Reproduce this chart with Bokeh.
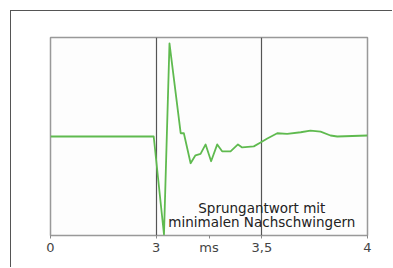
import numpy as np
from bokeh.plotting import figure
from bokeh.models import Range1d, FixedTicker, Label
from bokeh.embed import file_html
from bokeh.resources import INLINE

# Step response: time in ms, normalized amplitude (0 = steady state baseline)
time_ms = [0.0, 2.93, 3.037, 3.063, 3.116, 3.131, 3.163, 3.186, 3.21, 3.234,
           3.26, 3.289, 3.312, 3.352, 3.387, 3.407, 3.462, 3.494, 3.526,
           3.573, 3.62, 3.684, 3.73, 3.778, 3.825, 3.857, 4.0]
amplitude = [0.0, 0.0, -0.99, 0.94, 0.033, 0.033, -0.27, -0.19, -0.175, -0.08,
             -0.25, -0.08, -0.15, -0.15, -0.08, -0.11, -0.10, -0.06, -0.02,
             0.033, 0.027, 0.043, 0.06, 0.05, 0.01, 0.0, 0.01]

# broken time axis: 0..3 ms, 3..3.5 ms, 3.5..4 ms each take one equal segment
axis_breaks_ms = [0.0, 3.0, 3.5, 4.0]
tick_labels = ["0", "3", "3,5", "4"]
axis_unit = "ms"
annotation_lines = ["Sprungantwort mit", "minimalen Nachschwingern"]

seg = list(range(len(axis_breaks_ms)))
xpos = np.interp(time_ms, axis_breaks_ms, seg)

p = figure(width=382, height=257, output_backend="svg", toolbar_location=None,
           x_range=Range1d(0, 3), y_range=Range1d(-1.0, 1.0),
           min_border_left=39, min_border_right=26, min_border_top=26,
           min_border_bottom=33)
p.styles = {"border-left": "1.5px solid #555555", "border-top": "1.5px solid #555555",
            "margin-left": "9.5px", "margin-top": "9.5px"}
p.background_fill_color = "#fdfdfd"
p.border_fill_color = "white"
p.outline_line_color = "#999999"
p.outline_line_width = 1.5

p.yaxis.visible = False
p.ygrid.visible = False
p.xgrid.ticker = FixedTicker(ticks=[1, 2])
p.xgrid.grid_line_color = "#555555"
p.xgrid.grid_line_width = 1.2

p.xaxis.ticker = FixedTicker(ticks=seg + [1.5])
overrides = {i: lab for i, lab in zip(seg, tick_labels)}
overrides[1.5] = axis_unit
p.xaxis.major_label_overrides = overrides
p.xaxis.axis_line_color = None
p.xaxis.major_tick_line_color = "#888888"
p.xaxis.major_tick_out = 3
p.xaxis.major_tick_in = 0
p.xaxis.minor_tick_line_color = None
p.xaxis.major_label_standoff = 1
p.xaxis.major_label_text_font = "DejaVu Sans"
p.xaxis.major_label_text_font_size = "13px"
p.xaxis.major_label_text_color = "#444444"

p.line(xpos, amplitude, line_color="#5fba4f", line_width=1.8, line_join="round")

for i, txt in enumerate(annotation_lines):
    p.add_layout(Label(x=2.0, y=-0.725 - 0.135 * i, text=txt,
                       text_font="DejaVu Sans", text_font_size="13.5px",
                       text_color="#222222", text_align="center",
                       text_baseline="alphabetic"))

open("out.html", "w").write(file_html(p, INLINE))
